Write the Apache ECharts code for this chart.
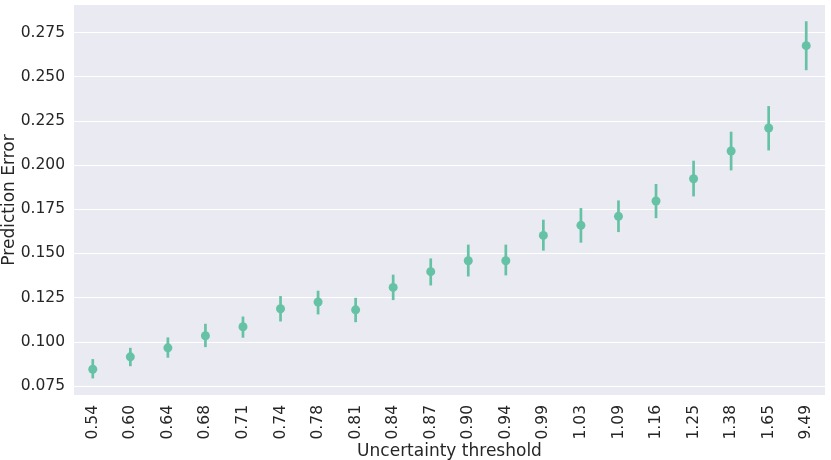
<!DOCTYPE html>
<html>
<head>
<meta charset="utf-8">
<script src="https://cdn.jsdelivr.net/npm/echarts@6/dist/echarts.min.js"></script>
<style>html,body{margin:0;padding:0;background:#fff}#c{width:831px;height:460px}</style>
</head>
<body>
<div id="c"></div>
<script>
const categories = ['0.54','0.60','0.64','0.68','0.71','0.74','0.78','0.81','0.84','0.87','0.90','0.94','0.99','1.03','1.09','1.16','1.25','1.38','1.65','9.49'];
const meanError = [0.0845,0.0915,0.0966,0.1034,0.1085,0.1187,0.1225,0.1181,0.1308,0.1397,0.1459,0.1459,0.1602,0.1659,0.1710,0.1797,0.1923,0.2080,0.2210,0.2676];
const lowerCI = [0.0793,0.0862,0.0910,0.0970,0.1023,0.1115,0.1155,0.1111,0.1236,0.1319,0.1370,0.1376,0.1516,0.1561,0.1621,0.1700,0.1823,0.1970,0.2083,0.2537];
const upperCI = [0.0902,0.0966,0.1025,0.1102,0.1143,0.1259,0.1289,0.1249,0.1380,0.1472,0.1550,0.1550,0.1691,0.1757,0.1800,0.1893,0.2025,0.2189,0.2334,0.2814];

const color = '#66c2a5';
const font = 'DejaVu Sans';
const chart = echarts.init(document.getElementById('c'));
chart.setOption({
  animation: false,
  grid: {left: 74, right: 6, top: 5, bottom: 65, show: true, backgroundColor: '#eaeaf2', borderWidth: 0,
    containLabel: false, outerBoundsMode: 'none'},
  xAxis: {
    type: 'category', data: categories,
    axisLine: {show: false}, axisTick: {show: false},
    axisLabel: {rotate: 90, margin: 10, fontFamily: font, fontSize: 15.5, color: '#262626'},
    splitLine: {show: false},
    name: 'Uncertainty threshold', nameLocation: 'middle', nameGap: 48, nameMoveOverlap: false,
    nameTextStyle: {fontFamily: font, fontSize: 17, color: '#262626'}
  },
  yAxis: {
    type: 'value', min: 0.0699, max: 0.2906, minInterval: 0.025, maxInterval: 0.025,
    axisLine: {show: false}, axisTick: {show: false},
    axisLabel: {margin: 9, fontFamily: font, fontSize: 15.5, color: '#262626', showMinLabel: false, showMaxLabel: false,
      formatter: v => v.toFixed(3)},
    splitLine: {show: true, showMinLine: false, showMaxLine: false, lineStyle: {color: '#ffffff', width: 1.2}},
    name: 'Prediction Error', nameLocation: 'middle', nameGap: 56, nameRotate: 90, nameMoveOverlap: false,
    nameTextStyle: {fontFamily: font, fontSize: 17, color: '#262626'}
  },
  series: [
    {
      type: 'custom',
      data: categories.map((c, i) => [i, lowerCI[i], upperCI[i]]),
      renderItem: function (params, api) {
        const lo = api.coord([api.value(0), api.value(1)]);
        const hi = api.coord([api.value(0), api.value(2)]);
        return {type: 'line', shape: {x1: lo[0], y1: lo[1], x2: hi[0], y2: hi[1]},
          style: {stroke: color, lineWidth: 2.7}};
      },
      z: 2
    },
    {
      type: 'scatter', data: meanError, symbol: 'circle', symbolSize: 9,
      itemStyle: {color: color, opacity: 1}, z: 3
    }
  ]
});
</script>
</body>
</html>
